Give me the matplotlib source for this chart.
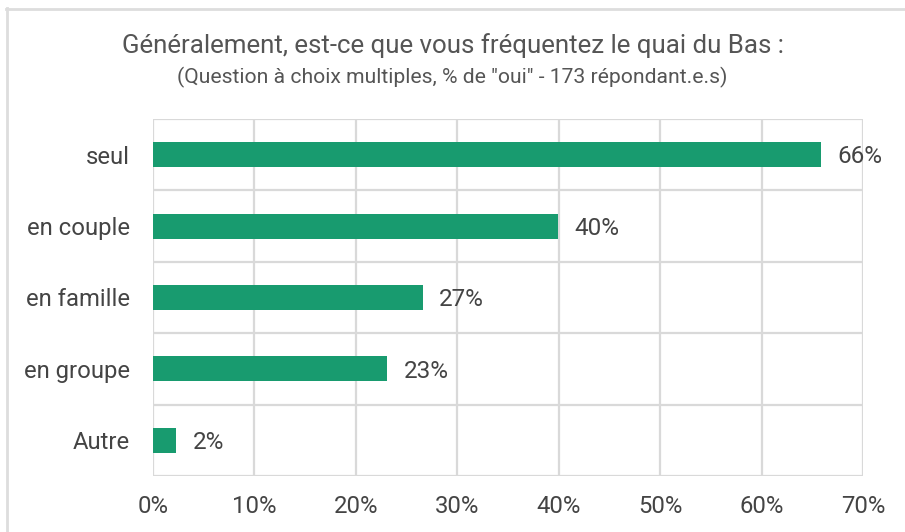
import matplotlib
matplotlib.use('Agg')
from matplotlib import pyplot as plt
from matplotlib.lines import Line2D

plt.rcParams['font.family'] = ['Roboto', 'DejaVu Sans']

# Données
categories = ['seul', 'en couple', 'en famille', 'en groupe', 'Autre']
valeurs = [65.9, 39.9, 26.6, 23.1, 2.3]
etiquettes = ['66%', '40%', '27%', '23%', '2%']
ticks_x = [0, 10, 20, 30, 40, 50, 60, 70]

vert = '#189B6F'
gris_texte = '#444444'
gris_grille = '#D9D9D9'

fig = plt.figure(figsize=(9.05, 5.32), dpi=100)
ax = fig.add_axes([153 / 905, 1 - 476 / 532, 710 / 905, 357 / 532])

positions = list(range(len(categories)))
ax.barh(positions, valeurs, height=0.35, color=vert, zorder=3)

for pos, val, lab in zip(positions, valeurs, etiquettes):
    ax.text(val + 1.6, pos + 0.03, lab, va='center', ha='left', fontsize=17.5,
            color=gris_texte, zorder=4)

ax.set_xlim(0, 70)
ax.set_ylim(len(categories) - 0.5, -0.5)
ax.set_xticks(ticks_x)
ax.set_xticklabels([f'{t}%' for t in ticks_x], fontsize=17.2, color=gris_texte)
ax.set_yticks(positions)
ax.set_yticklabels(categories, fontsize=17.2, color=gris_texte)
ax.tick_params(axis='x', length=0, pad=13.5)
ax.tick_params(axis='y', length=0, pad=16.5)

# Grille verticale et séparations horizontales
for t in ticks_x:
    ax.axvline(t, color=gris_grille, lw=1.6, zorder=1)
for b in range(len(categories) + 1):
    ax.axhline(b - 0.5, color=gris_grille, lw=1.6, zorder=1)
for s in ax.spines.values():
    s.set_visible(False)

fig.text(0.5, 1 - 46 / 532, 'Généralement, est-ce que vous fréquentez le quai du Bas :',
         ha='center', va='center', fontsize=18.6, color='#555555')
fig.text(0.5, 1 - 77 / 532, '(Question à choix multiples, % de "oui" - 173 répondant.e.s)',
         ha='center', va='center', fontsize=15.2, color='#555555')

# Cadre extérieur
fig.add_artist(Line2D([6.5 / 905, 6.5 / 905], [0, 1 - 8 / 532],
                      transform=fig.transFigure, color='#DDDDDD', lw=2))
fig.add_artist(Line2D([6 / 905, 1], [1 - 8.5 / 532, 1 - 8.5 / 532],
                      transform=fig.transFigure, color='#DDDDDD', lw=2))

fig.savefig('out.png', dpi=100)
